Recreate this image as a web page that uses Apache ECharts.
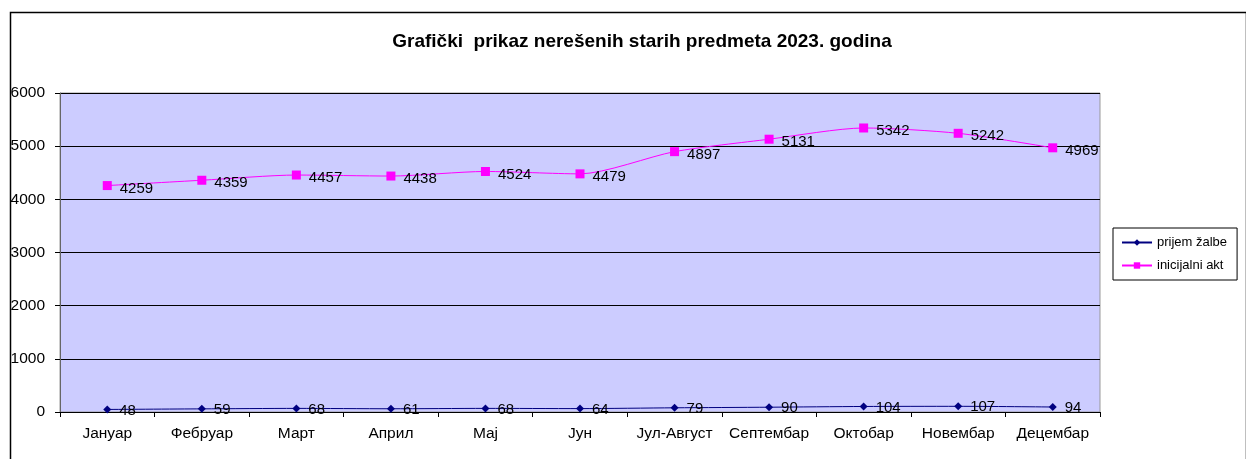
<!DOCTYPE html>
<html>
<head>
<meta charset="utf-8">
<script src="https://cdn.jsdelivr.net/npm/echarts@6/dist/echarts.min.js"></script>
<style>
html,body{margin:0;padding:0;background:#fff;}
#c{width:1246px;height:459px;}
</style>
</head>
<body>
<div id="c"></div>
<script>
const categories = ['Јануар','Фебруар','Март','Април','Мај','Јун','Јул-Август','Септембар','Октобар','Новембар','Децембар'];
const prijemZalbe = [48,59,68,61,68,64,79,90,104,107,94];
const inicijalniAkt = [4259,4359,4457,4438,4524,4479,4897,5131,5342,5242,4969];
const yTicks = [0,1000,2000,3000,4000,5000,6000];
const titleText = 'Grafički  prikaz nerešenih starih predmeta 2023. godina';

const font = '"Liberation Sans", Arial, sans-serif';
const chart = echarts.init(document.getElementById('c'));
chart.setOption({
  animation: false,
  backgroundColor: '#fff',
  title: {
    text: titleText,
    left: 637, top: 27, textAlign: 'center',
    textStyle: {fontFamily: font, fontSize: 19, fontWeight: 'bold', color: '#000'}
  },
  graphic: [{
    type: 'rect', left: 8, top: 10, silent: true,
    shape: {width: 1236, height: 470},
    style: {fill: 'none', stroke: '#000', lineWidth: 1.5}
  }],
  legend: {
    orient: 'vertical',
    left: 1113, top: 228,
    padding: [8, 10, 8, 8],
    itemGap: 10,
    itemWidth: 30, itemHeight: 8,
    borderColor: '#000', borderWidth: 1,
    textStyle: {fontFamily: font, fontSize: 13, color: '#000'},
    data: ['prijem žalbe','inicijalni akt']
  },
  grid: {
    left: 60, right: 146, top: 93, bottom: 47,
    show: true, backgroundColor: '#CCCCFF', borderColor: '#999', borderWidth: 1
  },
  xAxis: {
    type: 'category', data: categories, boundaryGap: true,
    axisLine: {lineStyle: {color: '#000', width: 1}},
    axisTick: {show: true, length: 5, lineStyle: {color: '#000'}},
    axisLabel: {fontFamily: font, fontSize: 15.5, color: '#000', margin: 14, interval: 0}
  },
  yAxis: {
    type: 'value', min: 0, max: 6000, interval: 1000,
    axisLine: {show: true, lineStyle: {color: '#666'}},
    axisTick: {show: true, length: 5, lineStyle: {color: '#000'}},
    axisLabel: {fontFamily: font, fontSize: 15.5, color: '#000', margin: 15,
      formatter: v => yTicks.includes(v) ? String(v) : ''},
    splitLine: {show: true, lineStyle: {color: '#000', width: 1}}
  },
  series: [
    {
      name: 'prijem žalbe', type: 'line', data: prijemZalbe,
      smooth: 0.25, symbol: 'diamond', symbolSize: 8,
      itemStyle: {color: '#000080'}, lineStyle: {color: '#000080', width: 1},
      label: {show: true, position: 'right', distance: 8, offset: [0, 1],
        fontFamily: font, fontSize: 15, color: '#000'},
      z: 3
    },
    {
      name: 'inicijalni akt', type: 'line', data: inicijalniAkt,
      smooth: 0.25, symbol: 'rect', symbolSize: 9,
      itemStyle: {color: '#FF00FF'}, lineStyle: {color: '#FF00FF', width: 1},
      label: {show: true, position: 'right', distance: 8, offset: [0, 3],
        fontFamily: font, fontSize: 15, color: '#000'},
      z: 4
    }
  ]
});
</script>
</body>
</html>
